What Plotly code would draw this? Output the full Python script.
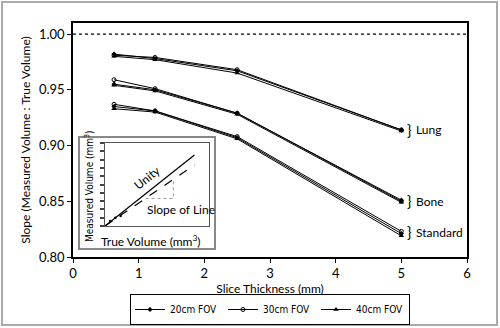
import plotly.graph_objects as go

slice_mm = [0.625, 1.25, 2.5, 5]
fov_names = ["20cm FOV", "30cm FOV", "40cm FOV"]
lung = {"20cm FOV": [0.982, 0.978, 0.967, 0.914],
        "30cm FOV": [0.981, 0.979, 0.968, 0.914],
        "40cm FOV": [0.980, 0.977, 0.965, 0.913]}
bone = {"20cm FOV": [0.955, 0.950, 0.929, 0.851],
        "30cm FOV": [0.959, 0.951, 0.929, 0.850],
        "40cm FOV": [0.954, 0.949, 0.928, 0.849]}
standard = {"20cm FOV": [0.935, 0.931, 0.907, 0.821],
            "30cm FOV": [0.937, 0.931, 0.908, 0.823],
            "40cm FOV": [0.933, 0.930, 0.906, 0.819]}
kernel_labels = ["Lung", "Bone", "Standard"]
label_y = [0.914, 0.850, 0.822]

# inset schematic
inset_unity_x = [0, 0.86]
inset_unity_y = [0, 0.855]
inset_fit_x = [0, 0.86]
inset_fit_y = [0, 0.735]
inset_pts_x = [0.05, 0.1, 0.15]
inset_pts_y = [0.06, 0.1, 0.12]
tri_x = [0.39, 0.657, 0.657]
tri_y = [0.332, 0.332, 0.558]

FONT = "Lato, 'Noto Sans', sans-serif"
NARROW = "'DejaVu Sans Condensed', 'Liberation Sans Narrow', sans-serif"

markers = {"20cm FOV": dict(symbol="diamond", size=4, color="black"),
           "30cm FOV": dict(symbol="circle-open", size=4, color="black", line=dict(width=1)),
           "40cm FOV": dict(symbol="triangle-up", size=5, color="black")}

fig = go.Figure()
for fov in fov_names:
    for i, series in enumerate([lung, bone, standard]):
        fig.add_trace(go.Scatter(
            x=slice_mm, y=series[fov], mode="lines+markers", name=fov,
            legendgroup=fov, showlegend=(i == 0),
            line=dict(color="black", width=1), marker=markers[fov]))

# inset traces
fig.add_trace(go.Scatter(x=inset_unity_x, y=inset_unity_y, mode="lines",
                         line=dict(color="black", width=1.3), xaxis="x2", yaxis="y2",
                         showlegend=False))
fig.add_trace(go.Scatter(x=inset_fit_x, y=inset_fit_y, mode="lines",
                         line=dict(color="black", width=1.2, dash="dash"), xaxis="x2", yaxis="y2",
                         showlegend=False))
fig.add_trace(go.Scatter(x=inset_pts_x, y=inset_pts_y, mode="markers",
                         marker=dict(color="black", size=2.5), xaxis="x2", yaxis="y2",
                         showlegend=False))
fig.add_trace(go.Scatter(x=tri_x, y=tri_y, mode="lines",
                         line=dict(color="#999999", width=1, dash="dot"), xaxis="x2", yaxis="y2",
                         showlegend=False))

W, H = 500, 328
L, R, T, B = 73, 33, 23, 71
pw, ph = W - L - R, H - T - B


def px(x):
    return (x - L) / pw


def py(y):
    return (H - B - y) / ph


shapes = [
    dict(type="rect", xref="paper", yref="paper", x0=px(2), x1=px(497), y0=py(325), y1=py(2),
         line=dict(color="#aaaaaa", width=2), fillcolor="white", layer="below"),
    dict(type="rect", xref="paper", yref="paper", x0=px(79), x1=px(215), y0=py(249), y1=py(137),
         line=dict(color="#888888", width=2), fillcolor="white", layer="below"),
    dict(type="line", xref="x", yref="y", x0=0, x1=6, y0=1.0, y1=1.0,
         line=dict(color="black", width=1.2, dash="dot")),
    dict(type="line", xref="x2", yref="y2", x0=0, x1=1, y0=-0.05, y1=-0.05,
         line=dict(color="#444444", width=2, dash="dash")),
]

annotations = []
for lab, yv in zip(kernel_labels, label_y):
    annotations.append(dict(x=5.12, y=yv, xref="x", yref="y", text="}", showarrow=False,
                            xanchor="center", yanchor="middle", font=dict(family=FONT, size=15, color="black")))
    annotations.append(dict(x=5.2, y=yv, xref="x", yref="y", text=lab, showarrow=False,
                            xanchor="left", yanchor="middle", font=dict(family=FONT, size=12, color="black")))

annotations += [
    dict(x=px(89), y=py(186), xref="paper", yref="paper", text="Measured Volume (mm<sup>3</sup>)",
         textangle=-90, showarrow=False, xanchor="center", yanchor="middle",
         font=dict(family=NARROW, size=10, color="black")),
    dict(x=px(151), y=py(241), xref="paper", yref="paper", text="True Volume (mm<sup>3</sup>)",
         showarrow=False, xanchor="center", yanchor="middle",
         font=dict(family=FONT, size=12, color="black")),
    dict(x=px(147), y=py(177), xref="paper", yref="paper", text="Unity", textangle=-39,
         showarrow=False, xanchor="center", yanchor="middle",
         font=dict(family=FONT, size=12, color="black")),
    dict(x=px(181), y=py(209), xref="paper", yref="paper", text="Slope of Line",
         showarrow=False, xanchor="center", yanchor="middle",
         font=dict(family=FONT, size=12, color="black")),
]

fig.update_layout(
    width=W, height=H, margin=dict(l=L, r=R, t=T, b=B, autoexpand=False),
    paper_bgcolor="white", plot_bgcolor="rgba(0,0,0,0)",
    font=dict(family=FONT, size=13, color="black"),
    xaxis=dict(range=[0, 6], dtick=1, showgrid=False, zeroline=False, showline=True, mirror=True,
               linecolor="black", linewidth=1.5, ticks="outside", ticklen=4, tickcolor="black",
               title=dict(text="Slice Thickness (mm)", font=dict(size=12), standoff=0),
               tickfont=dict(size=13)),
    yaxis=dict(range=[0.8, 1.0099], dtick=0.05, tickformat=".2f", showgrid=False, zeroline=False,
               showline=True, mirror=True, linecolor="black", linewidth=1.5, ticks="outside",
               ticklen=4, tickcolor="black",
               title=dict(text="Slope (Measured Volume : True Volume)", font=dict(size=12), standoff=6),
               tickfont=dict(size=13)),
    xaxis2=dict(domain=[px(105), px(209)], anchor="y2", range=[0, 1], showticklabels=False,
                showgrid=False, zeroline=False, showline=True, mirror=True, linecolor="#555555",
                linewidth=1, ticks=""),
    yaxis2=dict(domain=[py(226), py(143)], anchor="x2", range=[0, 1], showticklabels=False,
                showgrid=False, zeroline=False, showline=True, mirror=True, linecolor="#555555",
                linewidth=1, ticks="outside", ticklen=4, tickcolor="#444444", dtick=0.1, tickwidth=1.5),
    legend=dict(orientation="h", x=0.5, xanchor="center", y=py(294), yanchor="top",
                bordercolor="black", borderwidth=1, bgcolor="white",
                font=dict(family=NARROW, size=10), itemwidth=30, tracegroupgap=0,
                entrywidth=48, entrywidthmode="pixels"),
    shapes=shapes, annotations=annotations,
)

fig.write_html("out.html")
